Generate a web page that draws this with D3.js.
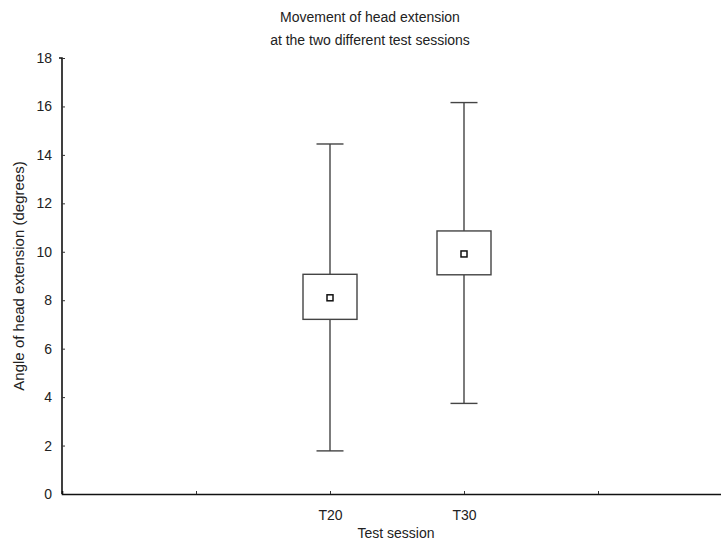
<!DOCTYPE html>
<html><head><meta charset="utf-8">
<script src="https://cdn.jsdelivr.net/npm/d3@7"></script>
<style>body{margin:0;background:#fff}svg{display:block}text{font-family:"Liberation Sans",Arial,sans-serif;fill:#222}</style>
</head><body>
<script>
const categories = ["T20", "T30"];
const catPositions = [2, 3];
const means = [8.1, 9.91];
const boxLow = [7.21, 9.05];
const boxHigh = [9.07, 10.86];
const whiskerLow = [1.78, 3.74];
const whiskerHigh = [14.45, 16.16];
const yTicks = [0, 2, 4, 6, 8, 10, 12, 14, 16, 18];
const xTickPositions = [1, 2, 3, 4];
const xTickLabels = {2: "T20", 3: "T30"};

const W = 721, H = 543;
const svg = d3.select("body").append("svg").attr("width", W).attr("height", H);
const x = d3.scaleLinear().domain([0, 5]).range([62, 732]);
const y = d3.scaleLinear().domain([0, 18]).range([494, 58]);

// axes
const yAxis = d3.axisLeft(y).tickValues(yTicks).tickSize(-3).tickPadding(10).tickFormat(d3.format("d"));
const gy = svg.append("g").attr("transform", `translate(${x(0)},0)`).call(yAxis);
const xAxis = d3.axisBottom(x).tickValues(xTickPositions).tickSize(-3).tickPadding(16).tickFormat(d => xTickLabels[d] || "");
const gx = svg.append("g").attr("transform", `translate(0,${y(0)})`).call(xAxis);
[gx, gy].forEach(g => {
  g.select(".domain").attr("stroke", "#111").attr("stroke-width", 1.6);
  g.selectAll(".tick line").attr("stroke", "#333").attr("stroke-width", 1);
  g.selectAll("text").attr("font-size", 14).style("font-family", '"Liberation Sans",Arial,sans-serif').attr("fill", "#222");
});
gy.select(".domain").attr("d", `M-3,${y(18)}H0V${y(0)}`);

// boxes
const boxW = 54, capW = 27, stroke = "#444";
const g = svg.append("g");
categories.forEach((c, i) => {
  const cx = x(catPositions[i]);
  g.append("line").attr("x1", cx).attr("x2", cx).attr("y1", y(whiskerHigh[i])).attr("y2", y(boxHigh[i])).attr("stroke", stroke).attr("stroke-width", 1.4);
  g.append("line").attr("x1", cx).attr("x2", cx).attr("y1", y(boxLow[i])).attr("y2", y(whiskerLow[i])).attr("stroke", stroke).attr("stroke-width", 1.4);
  g.append("line").attr("x1", cx - capW/2).attr("x2", cx + capW/2).attr("y1", y(whiskerHigh[i])).attr("y2", y(whiskerHigh[i])).attr("stroke", stroke).attr("stroke-width", 1.4);
  g.append("line").attr("x1", cx - capW/2).attr("x2", cx + capW/2).attr("y1", y(whiskerLow[i])).attr("y2", y(whiskerLow[i])).attr("stroke", stroke).attr("stroke-width", 1.4);
  g.append("rect").attr("x", cx - boxW/2).attr("width", boxW).attr("y", y(boxHigh[i])).attr("height", y(boxLow[i]) - y(boxHigh[i])).attr("fill", "#fff").attr("stroke", stroke).attr("stroke-width", 1.4);
  g.append("rect").attr("x", cx - 3).attr("y", y(means[i]) - 3).attr("width", 6).attr("height", 6).attr("fill", "#fff").attr("stroke", "#111").attr("stroke-width", 1.5);
});

// titles
svg.append("text").attr("x", 370).attr("y", 22).attr("text-anchor", "middle").attr("font-size", 14).text("Movement of head extension");
svg.append("text").attr("x", 370).attr("y", 45).attr("text-anchor", "middle").attr("font-size", 14).text("at the two different test sessions");
svg.append("text").attr("x", 396).attr("y", 538).attr("text-anchor", "middle").attr("font-size", 14).text("Test session");
svg.append("text").attr("transform", "translate(24,276) rotate(-90)").attr("text-anchor", "middle").attr("font-size", 15).text("Angle of head extension (degrees)");
</script>
</body></html>
